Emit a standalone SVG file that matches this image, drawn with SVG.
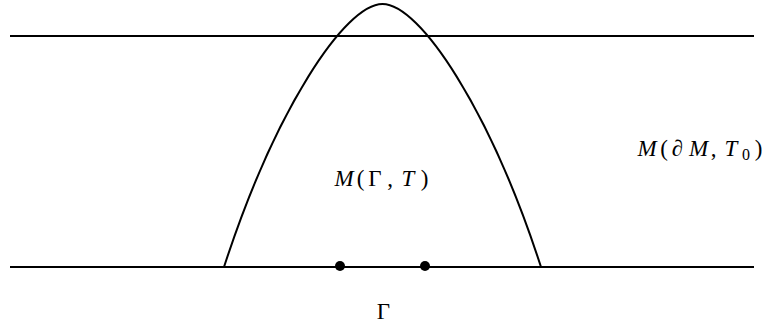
<svg xmlns="http://www.w3.org/2000/svg" width="765" height="331" viewBox="0 0 765 331">
<style>
.ln{stroke:#000;stroke-width:2;fill:none}
.cv{stroke:#000;stroke-width:2;fill:none;stroke-linejoin:round}
.t{font-family:"Liberation Serif","DejaVu Serif",serif;font-size:23px;fill:#000;text-anchor:middle}
.i{font-style:italic}
.s{font-size:16px}
</style>
<rect width="765" height="331" fill="#fff"/>
<g id="connectors">
<line class="ln" x1="10" y1="36" x2="754" y2="36"/>
<line class="ln" x1="10" y1="267" x2="754" y2="267"/>
<path class="cv" d="M224,267 C275,110 345,4 382.5,4 C420,4 490,110 541,267"/>
</g>
<g id="point1"><circle cx="340" cy="266" r="5" fill="#000"/></g>
<g id="point2"><circle cx="425" cy="266" r="5" fill="#000"/></g>
<g id="label-inner"><text class="t" y="186"><tspan class="i" x="344">M</tspan><tspan x="360.5">(</tspan><tspan x="375">Γ</tspan><tspan x="390">,</tspan><tspan class="i" x="408">T</tspan><tspan x="424.5">)</tspan></text></g>
<g id="label-outer"><text class="t" y="156"><tspan class="i" x="647">M</tspan><tspan x="664">(</tspan><tspan class="i" x="677.5">∂</tspan><tspan class="i" x="698.5">M</tspan><tspan x="713.5">,</tspan><tspan class="i" x="731">T</tspan><tspan class="s" x="746" y="160">0</tspan><tspan x="758.5" y="156">)</tspan></text></g>
<g id="label-gamma"><text class="t" x="383.5" y="319">Γ</text></g>
</svg>
